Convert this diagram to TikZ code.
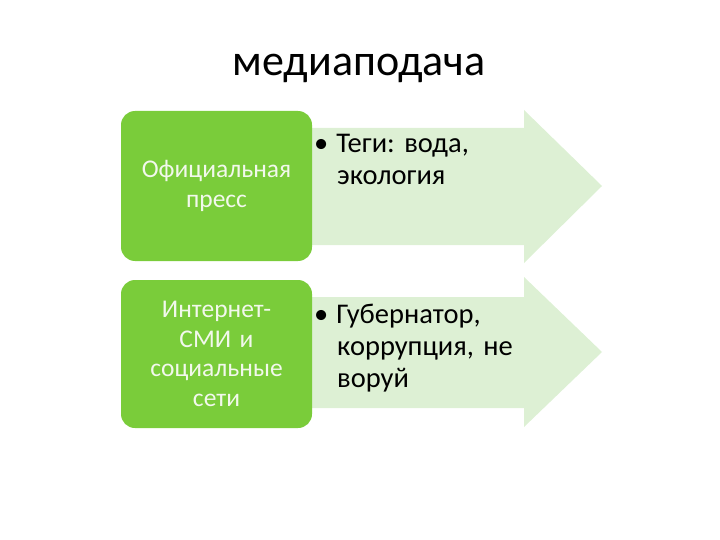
\documentclass[tikz,border=0pt]{standalone}
\usepackage{fontspec}
\setmainfont{Carlito}
\frenchspacing
\definecolor{boxgreen}{HTML}{7ACC3A}
\definecolor{arrowgreen}{HTML}{DDF0D4}
\definecolor{boxtext}{HTML}{F2F8EC}
\begin{document}
\begin{tikzpicture}[x=1pt,y=-1pt,
  greenbox/.style={fill=boxgreen,draw=none,rounded corners=14pt},
  arrowshape/.style={fill=arrowgreen,draw=none},
  lefttext/.style={text=boxtext,font=\fontsize{25.5}{29.5}\selectfont,align=center,text width=185pt},
  righttext/.style={text=black,font=\fontsize{28.5}{32}\selectfont,align=left,anchor=north west,text width=210pt,inner sep=0pt}]
\useasboundingbox (0,0) rectangle (720,540);
\node (title) at (359,68) {\fontsize{44}{52}\selectfont медиаподача};
% row 1
\path[arrowshape] (300,128) -- (524,128) -- (524,110) -- (602,186) -- (524,263) -- (524,245) -- (300,245) -- cycle;
\path[greenbox] (121,111) rectangle (312,261);
\node[lefttext] (l1) at (216.5,186) {Официальная\\пресс};
\node[righttext] (r1) at (314,134) {\textbullet\hspace{8pt}Теги: вода,\\\hspace*{23pt}экология};
% row 2
\path[arrowshape] (300,297) -- (524,297) -- (524,277) -- (602,352) -- (524,427) -- (524,408) -- (300,408) -- cycle;
\path[greenbox] (121,280) rectangle (312,428);
\node[lefttext] (l2) at (216.5,354) {Интернет-\\СМИ и\\социальные\\сети};
\node[righttext] (r2) at (314,304) {\textbullet\hspace{8pt}Губернатор,\\\hspace*{23pt}коррупция, не\\\hspace*{23pt}воруй};
\end{tikzpicture}
\end{document}
